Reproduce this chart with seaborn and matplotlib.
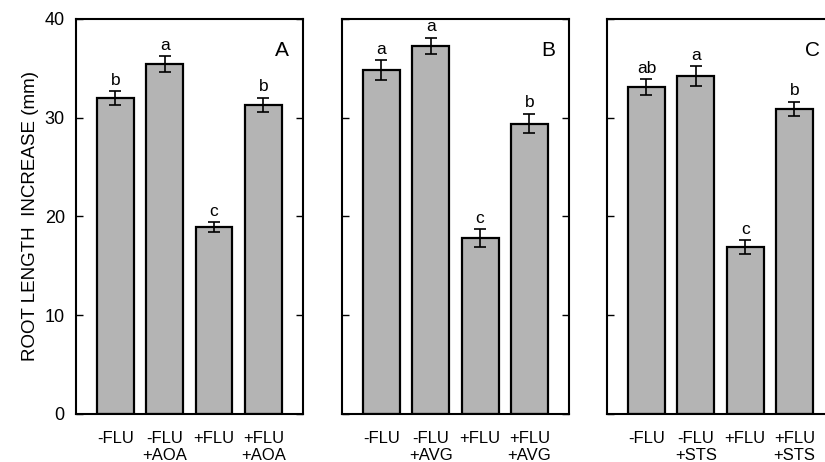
import pandas as pd
import matplotlib.pyplot as plt
import seaborn as sns
import numpy as np

sns.set_theme(style="white")
plt.rcParams['font.family'] = ['Liberation Sans', 'DejaVu Sans']
plt.rcParams['text.color'] = 'black'
plt.rcParams['axes.labelcolor'] = 'black'
plt.rcParams['xtick.color'] = 'black'
plt.rcParams['ytick.color'] = 'black'

# data
treat_a = ['-FLU', '-FLU\n+AOA', '+FLU', '+FLU\n+AOA']
treat_b = ['-FLU', '-FLU\n+AVG', '+FLU', '+FLU\n+AVG']
treat_c = ['-FLU', '-FLU\n+STS', '+FLU', '+FLU\n+STS']

mean_a = [32.0, 35.4, 18.9, 31.3]
mean_b = [34.8, 37.3, 17.8, 29.4]
mean_c = [33.1, 34.2, 16.9, 30.9]

err_a = [0.7, 0.8, 0.5, 0.7]
err_b = [1.0, 0.8, 0.9, 1.0]
err_c = [0.8, 1.0, 0.7, 0.7]

letters_a = ['b', 'a', 'c', 'b']
letters_b = ['a', 'a', 'c', 'b']
letters_c = ['ab', 'a', 'c', 'b']

panels = [
    ('A', treat_a, mean_a, err_a, letters_a),
    ('B', treat_b, mean_b, err_b, letters_b),
    ('C', treat_c, mean_c, err_c, letters_c),
]

fig = plt.figure(figsize=(8.25, 4.62), dpi=100)
lefts = [0.092, 0.4145, 0.7358]
w = 0.275
bottom, top = 0.104, 0.959

for i, (tag, treat, mean, err, lett) in enumerate(panels):
    ax = fig.add_axes([lefts[i], bottom, w, top - bottom])
    df = pd.DataFrame({'Treatment': treat, 'Length': mean})
    sns.barplot(data=df, x='Treatment', y='Length', color='#b4b4b4', saturation=1,
                width=0.75, edgecolor='black', linewidth=1.6, ax=ax)
    ax.errorbar(range(len(mean)), mean, yerr=err, fmt='none', ecolor='black',
                elinewidth=1.2, capsize=4, capthick=1.2)
    for j, (m, e, l) in enumerate(zip(mean, err, lett)):
        ax.text(j, m + e + 0.35, l, ha='center', va='bottom', fontsize=12.5)
    ax.text(0.94, 0.92, tag, transform=ax.transAxes, ha='right', va='center', fontsize=15)
    ax.set_xlim(-0.8, 3.8)
    ax.set_ylim(0, 40)
    ax.set_yticks([0, 10, 20, 30, 40])
    ax.tick_params(axis='y', direction='in', length=5, width=1, left=True, right=True,
                   labelsize=13, pad=8)
    ax.tick_params(axis='x', length=0, labelsize=12, pad=12)
    ax.set_xlabel('')
    if i == 0:
        ax.set_ylabel('ROOT LENGTH  INCREASE (mm)', fontsize=13.5, labelpad=4)
    else:
        ax.set_ylabel('')
        ax.set_yticklabels([])
    for s in ax.spines.values():
        s.set_visible(True)
        s.set_color('black')
        s.set_linewidth(1.5)

plt.savefig('out.png', dpi=100)
plt.close()
